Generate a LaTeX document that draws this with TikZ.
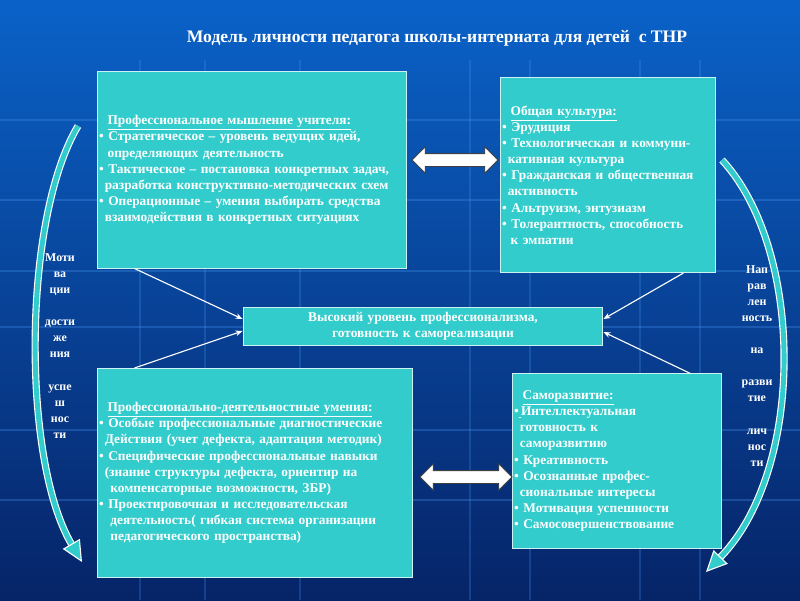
\documentclass[tikz,border=0pt]{standalone}
\usepackage{fontspec}
\setmainfont{Liberation Serif}
\usetikzlibrary{shapes.arrows,arrows.meta,calc}
\definecolor{turq}{RGB}{51,204,204}
\definecolor{topblue}{RGB}{10,98,200}
\definecolor{deepblue}{RGB}{6,36,104}
\definecolor{gridblue}{RGB}{70,150,240}
\tikzset{
	blok/.style={draw=white!75!turq, line width=0.7pt, fill=turq, text=white, font=\bfseries\fontsize{9.5}{11.5}\selectfont, align=left, inner xsep=1.5pt, inner ysep=0pt},
	dblarr/.style={double arrow, fill=white, draw=black!75, line width=0.6pt, double arrow head extend=0.17cm, inner xsep=0pt, inner ysep=0.15cm, minimum width=0.64cm},
	feed/.style={white, line width=0.8pt, -{Stealth[length=5pt,width=4pt]}},
	sidearr/.style={draw=white, double=turq, double distance=3.5pt, line width=0.8pt, -{Triangle[length=15pt,width=14pt,fill=turq]}},
	vlabel/.style={text=white, font=\bfseries\fontsize{8.5}{11.4}\selectfont, align=center}
}
\begin{document}
\begin{tikzpicture}[x=0.025cm, y=-0.025cm]
			\useasboundingbox (0,0) rectangle (800,600);
			\shade[top color=topblue, bottom color=deepblue] (0,0) rectangle (800,600);
			\foreach \gy in {120,200,271,327,430,500}
				\draw[gridblue, opacity=0.3, line width=0.8pt] (0,\gy) -- (800,\gy);
			\foreach \gx in {140,205,300,470,530,640,700}
				\draw[gridblue, opacity=0.25, line width=0.8pt] (\gx,60) -- (\gx,600);
			
			\node[text=white, font=\bfseries\fontsize{12.5}{15}\selectfont] (title) at (437,38) {Модель личности педагога школы-интерната для детей \ с ТНР};
			
			\node[blok, text width=7.64cm, minimum height=4.9cm] (mt) at (252,170) {\hspace*{6pt}\underline{Профессиональное мышление учителя:}\\
• Стратегическое – уровень ведущих идей,\\
\hspace*{6pt}определяющих деятельность\\
• Тактическое – постановка конкретных задач,\\
\hspace*{4pt}разработка конструктивно-методических схем\\
• Операционные – умения выбирать средства\\
\hspace*{4pt}взаимодействия в конкретных ситуациях};
			\node[blok, text width=5.29cm, minimum height=4.875cm] (ob) at (608,175) {\hspace*{6pt}\underline{Общая культура:}\\
• Эрудиция\\
• Технологическая и коммуни-\\
\hspace*{4pt}кативная культура\\
• Гражданская и общественная\\
\hspace*{4pt}активность\\
• Альтруизм, энтузиазм\\
• Толерантность, способность\\
\hspace*{6pt}к эмпатии};
			\node[blok, align=center, text width=8.89cm, minimum height=0.95cm] (vu) at (423,326) {Высокий уровень профессионализма,\\готовность к самореализации};
			\node[blok, text width=7.79cm, minimum height=5.225cm] (pd) at (255,473) {\hspace*{6pt}\underline{Профессионально-деятельностные умения:}\\
• Особые профессиональные диагностические\\
\hspace*{4pt}Действия (учет дефекта, адаптация методик)\\
• Специфические профессиональные навыки\\
\hspace*{4pt}(знание структуры дефекта, ориентир на\\
\hspace*{8pt}компенсаторные возможности, ЗБР)\\
• Проектировочная и исследовательская\\
\hspace*{8pt}деятельность( гибкая система организации\\
\hspace*{8pt}педагогического пространства)};
			\node[blok, text width=5.14cm, minimum height=4.35cm] (sr) at (617,461) {\hspace*{6pt}\underline{Саморазвитие:}\\
•\underline{\,}Интеллектуальная\\
\hspace*{4pt}готовность к\\
\hspace*{4pt}саморазвитию\\
• Креативность\\
• Осознанные профес-\\
\hspace*{4pt}сиональные интересы\\
• Мотивация успешности\\
• Самосовершенствование};
			
			\node[dblarr, minimum height=2.15cm] (mtob) at (455,160) {};
			\node[dblarr, minimum height=2.3cm] (pdsr) at (466,477) {};
			
			\draw[feed] ($(mt.south west)+(38,0)$) -- ($(vu.west)+(0,-7)$);
			\draw[feed] ($(pd.north west)+(38,0)$) -- ($(vu.west)+(0,5)$);
			\draw[feed] ($(ob.south east)+(-33,0)$) -- ($(vu.east)+(0,-7)$);
			\draw[feed] ($(sr.north east)+(-32,0)$) -- ($(vu.east)+(0,6)$);
			
			\coordinate (ltail) at (78,126);
			\coordinate (lhead) at (82,562);
			\draw[sidearr] (ltail) .. controls (22,220) and (22,460) .. (lhead);
			\coordinate (rtail) at (722,160);
			\coordinate (rhead) at (706,572);
			\draw[sidearr] (rtail) .. controls (805,250) and (805,470) .. (rhead);
			
			\node[vlabel] (motiv) at (60,346) {Моти\\ва\\ции\\[11.4pt]дости\\же\\ния\\[11.4pt]успе\\ш\\нос\\ти};
			\node[vlabel] (napr) at (757,366) {Нап\\рав\\лен\\ность\\[11.4pt]на\\[11.4pt]разви\\тие\\[11.4pt]лич\\нос\\ти};
		\end{tikzpicture}
\end{document}
